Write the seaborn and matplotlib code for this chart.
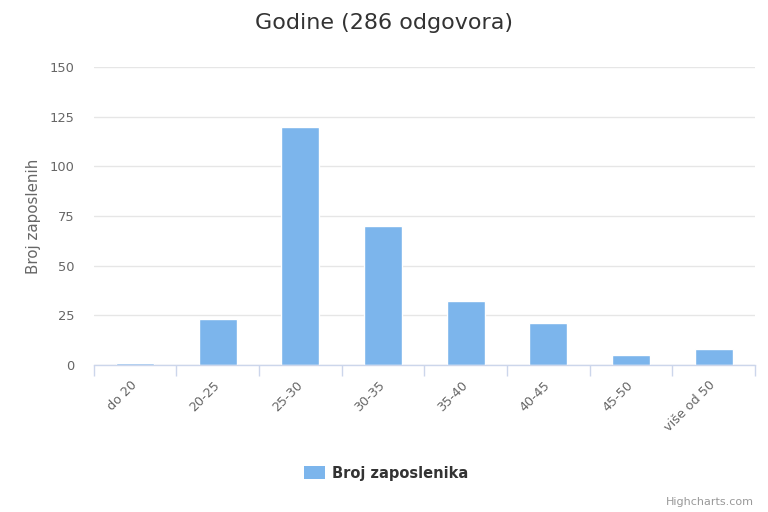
import matplotlib
matplotlib.use('Agg')
import matplotlib.pyplot as plt
import pandas as pd
import numpy as np
import seaborn as sns
from matplotlib.patches import Patch

# Data
categories = ['do 20', '20-25', '25-30', '30-35', '35-40', '40-45', '45-50', 'više od 50']
values = [1, 23, 120, 70, 32, 21, 5, 8]
series_name = 'Broj zaposlenika'
y_ticks = [0, 25, 50, 75, 100, 125, 150]

df = pd.DataFrame({'kategorija': categories, 'broj': values})

sns.set_style('white')
plt.rcParams['font.family'] = ['DejaVu Sans']

fig = plt.figure(figsize=(7.68, 5.12), dpi=100)
ax = fig.add_axes([0.122, 0.287, 0.861, 0.582])

sns.barplot(data=df, x='kategorija', y='broj', color='#7cb5ec', saturation=1,
            width=0.46, edgecolor='white', linewidth=1, ax=ax)

ax.set_ylim(0, 150)
ax.set_xlim(-0.5, len(categories) - 0.5)
ax.set_yticks(y_ticks)
ax.set_yticklabels([str(t) for t in y_ticks], color='#666666', fontsize=9.4)
ax.grid(axis='y', color='#e6e6e6', linewidth=1)
ax.set_axisbelow(True)
ax.tick_params(axis='y', length=0, pad=13.7)

# category labels, rotated like highcharts
ax.set_xticks(range(len(categories)))
ax.set_xticklabels(categories, rotation=45, ha='right', va='center',
                   rotation_mode='anchor', color='#666666', fontsize=9.2)
ax.tick_params(axis='x', which='major', length=0, pad=13)
# tick marks sit between the categories
ax.set_xticks(np.arange(-0.5, len(categories), 1), minor=True)
ax.tick_params(axis='x', which='minor', bottom=True, length=8,
               color='#ccd6eb', width=1)

for side in ['top', 'right', 'left']:
    ax.spines[side].set_visible(False)
ax.spines['bottom'].set_color('#ccd6eb')
ax.spines['bottom'].set_linewidth(1)

ax.set_xlabel('')
ax.set_ylabel('Broj zaposlenih', color='#666666', fontsize=10.8, labelpad=6.5)

fig.text(0.5, 0.955, 'Godine (286 odgovora)', ha='center', va='center',
         fontsize=16, color='#333333')

leg = fig.legend(handles=[Patch(facecolor='#7cb5ec', edgecolor='none', label=series_name)],
                 loc='center', bbox_to_anchor=(0.503, 0.076), frameon=False,
                 handlelength=1.4, handleheight=0.95, handletextpad=0.5,
                 prop={'weight': 'bold', 'size': 10.5})
for t in leg.get_texts():
    t.set_color('#333333')

fig.text(0.982, 0.02, 'Highcharts.com', ha='right', va='center',
         fontsize=8, color='#999999')

fig.savefig('out.png', dpi=100)
